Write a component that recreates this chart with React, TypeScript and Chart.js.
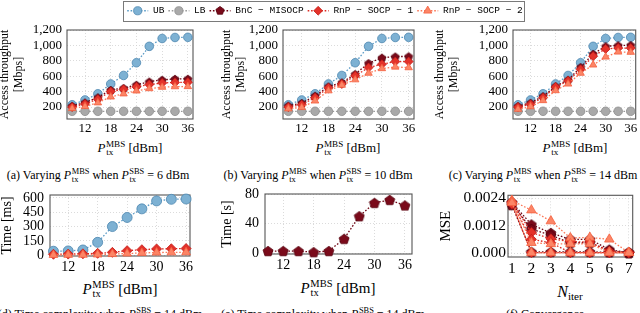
import React, { useEffect, useRef } from 'react';
import { Chart, registerables } from 'chart.js';

Chart.register(...registerables);

const SERIF = '"Liberation Serif", "Times New Roman", serif';
const MONO = '"Liberation Mono", "DejaVu Sans Mono", monospace';
const GRID = '#d2d2d2';

// ---------------- data ----------------
const powerMBS = [9, 12, 15, 18, 21, 24, 27, 30, 33, 36];
const powerTicks = [12, 18, 24, 30, 36];
const throughputTicks = [200, 400, 600, 800, 1000, 1200];

const ubThroughput = [230, 292, 372, 500, 610, 775, 988, 1090, 1103, 1105];
const lbThroughput = [145, 145, 145, 145, 145, 145, 145, 145, 145, 145];

const bncThroughputA = [215, 258, 325, 422, 446, 488, 530, 552, 565, 566];
const rnp1ThroughputA = [200, 240, 302, 402, 430, 462, 492, 512, 520, 522];
const rnp2ThroughputA = [182, 208, 256, 332, 372, 410, 440, 458, 465, 467];

const bncThroughputB = [217, 252, 346, 466, 518, 627, 769, 840, 855, 857];
const rnp1ThroughputB = [200, 230, 322, 450, 500, 605, 712, 756, 790, 790];
const rnp2ThroughputB = [178, 195, 280, 412, 485, 555, 640, 700, 720, 712];

const bncThroughputC = [212, 255, 340, 470, 553, 718, 890, 988, 1000, 1003];
const rnp1ThroughputC = [200, 235, 322, 460, 540, 690, 860, 955, 965, 965];
const rnp2ThroughputC = [172, 205, 285, 414, 500, 640, 747, 850, 915, 912];

const timeMsTicks = [0, 150, 300, 450, 600];
const ubTimeMs = [42, 45, 55, 135, 300, 395, 485, 568, 585, 588];
const rnp1TimeMs = [10, 12, 15, 20, 30, 48, 58, 66, 68, 70];
const rnp2TimeMs = [3, 4, 5, 8, 12, 18, 24, 28, 30, 31];

const timeSTicks = [0, 40, 80];
const bncTimeS = [3, 3, 3, 1.5, 3, 19.5, 50, 68, 72, 64.5];

const iterations = [1, 2, 3, 4, 5, 6, 7];
const mseTicks = [0, 0.0012, 0.0024];
const mseTickLabels = ['0.000', '0.0012', '0.0024'];
const mseBnC1 = [0.00222, 0.00125, 0.00088, 0.0006, 0.0006, 0.00015, 0.00002];
const mseBnC2 = [0.00218, 0.00105, 0.00078, 0.00045, 0.00045, 0.0001, 0.00002];
const mseBnC3 = [0.0021, 0.00005, 0.00005, 0.00005, 0.00005, 0.00003, 0.00002];
const mseRnP1a = [0.00225, 0.0009, 0.00062, 0.0005, 0.00048, 0.00008, 0.00002];
const mseRnP1b = [0.0022, 0.0006, 0.00045, 0.00002, 0.00002, 0.00002, 0.00002];
const mseRnP1c = [0.00215, 0.00002, 0.00002, 0.00002, 0.00002, 0.00002, 0.00002];
const mseRnP2a = [0.0023, 0.00188, 0.0014, 0.00066, 0.00068, 0.0006, 0.00002];
const mseRnP2b = [0.00225, 0.00045, 0.0004, 0.0004, 0.0004, 0.00003, 0.00002];
const mseRnP2c = [0.0022, 0.00001, 0.00001, 0.00001, 0.00001, 0.00001, 0.00001];

// ---------------- styles ----------------
type St = { line: string; fill: string; edge: string; shape: string };
const STYLE: Record<string, St> = {
  ub: { line: '#5b9bc6', fill: '#7db1d3', edge: '#4c87b0', shape: 'circle' },
  lb: { line: '#9a9a9a', fill: '#a9a9a9', edge: '#8d8d8d', shape: 'circle' },
  bnc: { line: '#6d0514', fill: '#7a0a1a', edge: '#55000c', shape: 'pentagon' },
  rnp1: { line: '#dc2a22', fill: '#e3322a', edge: '#c41c16', shape: 'rectRot' },
  rnp2: { line: '#fb7858', fill: '#fc8566', edge: '#f4603f', shape: 'triangle' },
};

function drawMarker(ctx: CanvasRenderingContext2D, st: St, x: number, y: number, r: number) {
  ctx.save();
  ctx.fillStyle = st.fill;
  ctx.strokeStyle = st.edge;
  ctx.lineWidth = 0.8;
  ctx.setLineDash([]);
  ctx.beginPath();
  if (st.shape === 'circle') {
    ctx.arc(x, y, r, 0, Math.PI * 2);
  } else if (st.shape === 'pentagon') {
    for (let k = 0; k < 5; k++) {
      const a = -Math.PI / 2 + (k * 2 * Math.PI) / 5;
      const px = x + Math.cos(a) * r * 1.05;
      const py = y + Math.sin(a) * r * 1.05;
      if (k === 0) ctx.moveTo(px, py);
      else ctx.lineTo(px, py);
    }
  } else if (st.shape === 'rectRot') {
    ctx.moveTo(x, y - r);
    ctx.lineTo(x + r, y);
    ctx.lineTo(x, y + r);
    ctx.lineTo(x - r, y);
  } else {
    for (let k = 0; k < 3; k++) {
      const a = -Math.PI / 2 + (k * 2 * Math.PI) / 3;
      const px = x + Math.cos(a) * r * 1.15;
      const py = y + Math.sin(a) * r * 1.15;
      if (k === 0) ctx.moveTo(px, py);
      else ctx.lineTo(px, py);
    }
  }
  ctx.closePath();
  ctx.fill();
  ctx.stroke();
  ctx.restore();
}

const pentCache: Record<string, HTMLCanvasElement> = {};
function pentagon(st: St, size: number) {
  const key = st.fill + size;
  if (pentCache[key]) return pentCache[key];
  const c = document.createElement('canvas');
  c.width = size;
  c.height = size;
  const g = c.getContext('2d')!;
  drawMarker(g, st, size / 2, size / 2 + 0.5, size / 2 - 1);
  pentCache[key] = c;
  return c;
}

function series(label: string, xs: number[], ys: number[], st: St, r: number, order: number) {
  const pointStyle: any = st.shape === 'pentagon' ? pentagon(st, Math.round(r * 2.4)) : st.shape;
  return {
    label,
    data: xs.map((x, i) => ({ x, y: ys[i] })),
    borderColor: st.line,
    backgroundColor: st.fill,
    pointBackgroundColor: st.fill,
    pointBorderColor: st.edge,
    pointBorderWidth: 0.8,
    pointRadius: r,
    pointStyle,
    borderWidth: 1.3,
    borderDash: [1.6, 1.8],
    tension: 0,
    clip: false as any,
    order,
  };
}

const framePlugin = {
  id: 'frame',
  beforeDatasetsDraw(chart: any) {
    const { ctx, chartArea: a } = chart;
    ctx.save();
    ctx.strokeStyle = '#555';
    ctx.lineWidth = 1.1;
    ctx.setLineDash([]);
    ctx.strokeRect(a.left, a.top, a.right - a.left, a.bottom - a.top);
    ctx.restore();
  },
};

type PanelSpec = {
  padT: number; padR: number; yw: number; xh: number;
  xMin: number; xMax: number; xTicks: number[];
  yMin: number; yMax: number; yTicks: number[];
  yFmt: (v: number) => string; yTitle: string | string[];
  tick: number; titleSize: number; xPad: number; yPad: number;
};

function makeOptions(p: PanelSpec): any {
  return {
    responsive: false,
    animation: false,
    events: [],
    layout: { padding: { top: p.padT, right: p.padR, left: 0, bottom: 0 } },
    plugins: { legend: { display: false }, tooltip: { enabled: false } },
    scales: {
      x: {
        type: 'linear',
        position: 'bottom',
        min: p.xMin,
        max: p.xMax,
        afterBuildTicks: (s: any) => { s.ticks = p.xTicks.map((v) => ({ value: v })); },
        afterFit: (s: any) => { s.height = p.xh; s.paddingLeft = 0; s.paddingRight = 0; },
        grid: { color: GRID, lineWidth: 0.8, drawTicks: false },
        border: { display: false, dash: [1, 2] },
        ticks: {
          padding: p.xPad, color: '#000', maxRotation: 0, autoSkip: false,
          font: { family: SERIF, size: p.tick },
          callback: (v: number) => String(v),
        },
      },
      y: {
        type: 'linear',
        position: 'left',
        min: p.yMin,
        max: p.yMax,
        afterBuildTicks: (s: any) => { s.ticks = p.yTicks.map((v) => ({ value: v })); },
        afterFit: (s: any) => { s.width = p.yw; s.paddingTop = 0; s.paddingBottom = 0; },
        grid: { color: GRID, lineWidth: 0.8, drawTicks: false },
        border: { display: false, dash: [1, 2] },
        ticks: {
          padding: p.yPad, color: '#000', autoSkip: false,
          font: { family: SERIF, size: p.tick },
          callback: (v: number) => p.yFmt(v),
        },
        title: {
          display: true, text: p.yTitle, color: '#000',
          font: { family: SERIF, size: p.titleSize, lineHeight: 1.15 },
          padding: { top: 0, bottom: 0 },
        },
      },
    },
  };
}

function ChartPanel(props: { left: number; top: number; width: number; height: number; build: () => any }) {
  const ref = useRef<HTMLCanvasElement>(null);
  useEffect(() => {
    const chart = new Chart(ref.current as HTMLCanvasElement, props.build());
    let alive = true;
    const fonts: any = (document as any).fonts;
    if (fonts && fonts.load) {
      Promise.all([
        fonts.load('13px "Liberation Serif"'),
        fonts.load('italic 13px "Liberation Serif"'),
        fonts.load('10px "Liberation Mono"'),
      ]).then(() => { if (alive) chart.update(); }).catch(() => {});
    }
    return () => { alive = false; chart.destroy(); };
  }, []);
  return (
    <div style={{ position: 'absolute', left: props.left, top: props.top, width: props.width, height: props.height }}>
      <canvas ref={ref} width={props.width} height={props.height} style={{ display: 'block' }} />
    </div>
  );
}

const fmtThousands = (v: number) => v.toLocaleString('en-US');

function throughputChart(bnc: number[], rnp1: number[], rnp2: number[]) {
  return () => ({
    type: 'line',
    data: {
      datasets: [
        series('UB', powerMBS, ubThroughput, STYLE.ub, 4.3, 0),
        series('LB', powerMBS, lbThroughput, STYLE.lb, 4.3, -1),
        series('BnC − MISOCP', powerMBS, bnc, STYLE.bnc, 4.3, -2),
        series('RnP − SOCP − 1', powerMBS, rnp1, STYLE.rnp1, 4.5, -3),
        series('RnP − SOCP − 2', powerMBS, rnp2, STYLE.rnp2, 4.3, -4),
      ],
    },
    options: makeOptions({
      padT: 6, padR: 0, yw: 0, xh: 20,
      xMin: 7.8, xMax: 37.2, xTicks: powerTicks,
      yMin: 45, yMax: 1200, yTicks: throughputTicks,
      yFmt: fmtThousands, yTitle: ['Access throughput', '[Mbps]'],
      tick: 13, titleSize: 12, xPad: 2, yPad: 5,
    }),
    plugins: [framePlugin],
  });
}

function withGeom(build: () => any, g: { padR: number; yw: number }) {
  return () => {
    const cfg = build();
    cfg.options.layout.padding.right = g.padR;
    const oldFit = cfg.options.scales.y.afterFit;
    cfg.options.scales.y.afterFit = (s: any) => { oldFit(s); s.width = g.yw; };
    return cfg;
  };
}

const legendItems = [
  { label: 'UB', st: STYLE.ub },
  { label: 'LB', st: STYLE.lb },
  { label: 'BnC − MISOCP', st: STYLE.bnc },
  { label: 'RnP − SOCP − 1', st: STYLE.rnp1 },
  { label: 'RnP − SOCP − 2', st: STYLE.rnp2 },
];

const legendSamples = {
  id: 'legendSamples',
  afterDraw(chart: any) {
    const { ctx } = chart;
    ctx.save();
    ctx.strokeStyle = '#7a7a7a';
    ctx.lineWidth = 1;
    ctx.strokeRect(8.5, 1.5, 401, 20);
    const boxes = chart.legend.legendHitBoxes || [];
    boxes.forEach((hb: any, i: number) => {
      const it = legendItems[i];
      const cy = hb.top + hb.height / 2;
      ctx.save();
      ctx.strokeStyle = it.st.line;
      ctx.lineWidth = 1.3;
      ctx.setLineDash([1.6, 1.8]);
      ctx.beginPath();
      ctx.moveTo(hb.left, cy);
      ctx.lineTo(hb.left + 21, cy);
      ctx.stroke();
      ctx.restore();
      drawMarker(ctx, it.st, hb.left + 10.5, cy, it.st.shape === 'rectRot' ? 4.4 : 4.1);
    });
    ctx.restore();
  },
};

function legendChart() {
  return {
    type: 'line',
    data: { datasets: legendItems.map((it) => ({ label: it.label, data: [] as any[] })) },
    options: {
      responsive: false,
      animation: false,
      events: [],
      layout: { padding: { top: 2 } },
      scales: { x: { display: false }, y: { display: false } },
      plugins: {
        tooltip: { enabled: false },
        legend: {
          display: true,
          position: 'top',
          labels: {
            boxWidth: 21, boxHeight: 9, padding: 4, color: '#000',
            font: { family: MONO, size: 9.5 },
            generateLabels: (chart: any) =>
              chart.data.datasets.map((d: any, i: number) => ({
                text: d.label, fillStyle: 'rgba(0,0,0,0)', strokeStyle: 'rgba(0,0,0,0)',
                lineWidth: 0, hidden: false, datasetIndex: i,
              })),
          },
        },
      },
    },
    plugins: [legendSamples],
  };
}

function timeMsChart() {
  return {
    type: 'line',
    data: {
      datasets: [
        series('UB', powerMBS, ubTimeMs, STYLE.ub, 5, 0),
        series('RnP − SOCP − 1', powerMBS, rnp1TimeMs, STYLE.rnp1, 5, -3),
        series('RnP − SOCP − 2', powerMBS, rnp2TimeMs, STYLE.rnp2, 5, -4),
      ],
    },
    options: makeOptions({
      padT: 6, padR: 7, yw: 51, xh: 22,
      xMin: 8.3, xMax: 36.8, xTicks: powerTicks,
      yMin: -8, yMax: 630, yTicks: timeMsTicks,
      yFmt: (v) => String(v), yTitle: 'Time [ms]',
      tick: 14, titleSize: 14, xPad: 3, yPad: 6,
    }),
    plugins: [framePlugin],
  };
}

function timeSChart() {
  return {
    type: 'line',
    data: { datasets: [series('BnC − MISOCP', powerMBS, bncTimeS, STYLE.bnc, 5, 0)] },
    options: makeOptions({
      padT: 6, padR: 7, yw: 46, xh: 22,
      xMin: 8.4, xMax: 37.4, xTicks: powerTicks,
      yMin: -1, yMax: 80, yTicks: timeSTicks,
      yFmt: (v) => String(v), yTitle: 'Time [s]',
      tick: 14, titleSize: 14, xPad: 3, yPad: 6,
    }),
    plugins: [framePlugin],
  };
}

function mseChart() {
  return {
    type: 'line',
    data: {
      datasets: [
        series('BnC 1', iterations, mseBnC1, STYLE.bnc, 5, -1),
        series('BnC 2', iterations, mseBnC2, STYLE.bnc, 5, -2),
        series('BnC 3', iterations, mseBnC3, STYLE.bnc, 5, -3),
        series('RnP1 a', iterations, mseRnP1a, STYLE.rnp1, 5, -4),
        series('RnP1 b', iterations, mseRnP1b, STYLE.rnp1, 5, -5),
        series('RnP1 c', iterations, mseRnP1c, STYLE.rnp1, 5, -6),
        series('RnP2 a', iterations, mseRnP2a, STYLE.rnp2, 5.5, -7),
        series('RnP2 b', iterations, mseRnP2b, STYLE.rnp2, 5.5, -8),
        series('RnP2 c', iterations, mseRnP2c, STYLE.rnp2, 5.5, -9),
      ],
    },
    options: makeOptions({
      padT: 6, padR: 6, yw: 71, xh: 22,
      xMin: 0.8, xMax: 7.2, xTicks: iterations,
      yMin: -0.000175, yMax: 0.00253, yTicks: mseTicks,
      yFmt: (v) => mseTickLabels[mseTicks.indexOf(v)] ?? '', yTitle: 'MSE',
      tick: 15.5, titleSize: 15, xPad: 3, yPad: 2,
    }),
    plugins: [framePlugin],
  };
}

// ---------------- text helpers ----------------
function Stack({ sup, sub }: { sup: string; sub: string }) {
  return (
    <span style={{ display: 'inline-block', position: 'relative', fontSize: '0.7em', lineHeight: 1, marginLeft: '0.06em' }}>
      <span style={{ position: 'relative', top: '-0.55em' }}>{sup}</span>
      <span style={{ position: 'absolute', left: '0.02em', top: '0.32em' }}>{sub}</span>
    </span>
  );
}

function PTx({ sup }: { sup: string }) {
  return (
    <>
      <i>P</i>
      <Stack sup={sup} sub="tx" />
    </>
  );
}

function Txt({ x, y, size, children }: { x: number; y: number; size: number; children: any }) {
  return (
    <div
      style={{
        position: 'absolute', left: x, top: y, transform: 'translate(-50%, -50%)',
        fontFamily: SERIF, fontSize: size, lineHeight: 1, whiteSpace: 'nowrap', color: '#000',
      }}
    >
      {children}
    </div>
  );
}

export default function App() {
  return (
    <div style={{ position: 'absolute', left: 0, top: 0, width: 640, height: 313, overflow: 'hidden', background: '#fff' }}>
      <ChartPanel left={-2} top={24} width={202} height={115}
        build={withGeom(throughputChart(bncThroughputA, rnp1ThroughputA, rnp2ThroughputA), { padR: 7, yw: 69 })} />
      <ChartPanel left={220} top={24} width={201} height={115}
        build={withGeom(throughputChart(bncThroughputB, rnp1ThroughputB, rnp2ThroughputB), { padR: 7, yw: 63 })} />
      <ChartPanel left={433} top={24} width={208} height={115}
        build={withGeom(throughputChart(bncThroughputC, rnp1ThroughputC, rnp2ThroughputC), { padR: 4, yw: 80 })} />
      <ChartPanel left={115} top={0} width={420} height={30} build={legendChart} />

      <Txt x={130} y={148} size={13}><PTx sup="MBS" /> [dBm]</Txt>
      <Txt x={348} y={148} size={13}><PTx sup="MBS" /> [dBm]</Txt>
      <Txt x={575} y={148} size={13}><PTx sup="MBS" /> [dBm]</Txt>

      <Txt x={98} y={175} size={12}>(a) Varying <PTx sup="MBS" /> when <PTx sup="SBS" /> = 6 dBm</Txt>
      <Txt x={318} y={175} size={12}>(b) Varying <PTx sup="MBS" /> when <PTx sup="SBS" /> = 10 dBm</Txt>
      <Txt x={543} y={175} size={12}>(c) Varying <PTx sup="MBS" /> when <PTx sup="SBS" /> = 14 dBm</Txt>

      <ChartPanel left={-1} top={189} width={198} height={89} build={timeMsChart} />
      <ChartPanel left={219} top={188} width={200} height={88} build={timeSChart} />
      <ChartPanel left={437} top={189} width={202} height={90} build={mseChart} />

      <Txt x={120} y={289} size={15}><PTx sup="MBS" /> [dBm]</Txt>
      <Txt x={338} y={288} size={15}><PTx sup="MBS" /> [dBm]</Txt>
      <Txt x={570} y={292} size={16}>
        <i>N</i><span style={{ fontSize: '0.7em', position: 'relative', top: '0.3em' }}>iter</span>
      </Txt>

      <Txt x={100} y={314} size={12}>(d) Time complexity when <PTx sup="SBS" /> = 14 dBm</Txt>
      <Txt x={323} y={314} size={12}>(e) Time complexity when <PTx sup="SBS" /> = 14 dBm</Txt>
      <Txt x={545} y={314} size={12}>(f) Convergence</Txt>
    </div>
  );
}
